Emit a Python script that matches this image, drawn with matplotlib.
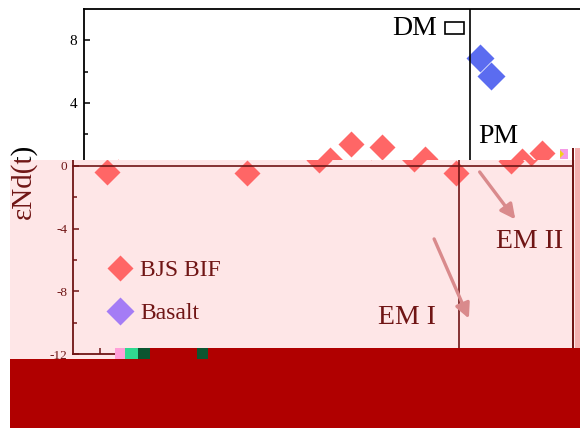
import matplotlib.pyplot as plt
from matplotlib.patches import Rectangle, Polygon
from matplotlib.transforms import Bbox, TransformedBbox

plt.rcParams['font.family'] = ['Liberation Serif', 'DejaVu Serif']
plt.rcParams['axes.unicode_minus'] = False

# position along the section vs. eNd(t)
bif_x = [0.7, 14.7, 21.9, 24.0, 27.1, 31.4, 35.6, 41.1, 43.1]
bif_end = [-0.38, -0.45, 0.38, 1.40, 1.20, 0.44, -0.45, 0.30, 0.80]
basalt_x = [36.9, 38.0]
basalt_end = [6.9, 5.7]

boundary_x = 35.9
x_ticks = [0, 5, 10, 15, 20, 25, 30, 35, 40, 45]
y_major = [-12, -8, -4, 0, 4, 8]
y_minor = [-10, -6, -2, 2, 6]

W, H = 580, 428


def px(x, y):
    return (x / W, 1 - y / H)


def draw_panel(ax, ink, basalt_color, label_size, pad, ylab_x, upper=True, lower=True):
    ax.set_facecolor('none')
    ax.plot(bif_x, bif_end, 'D', ms=13, color='#ff6666', mec='none', label='BJS BIF')
    ax.plot(basalt_x, basalt_end, 'D', ms=14, color=basalt_color, mec='none', label='Basalt')
    ax.axvline(boundary_x, color=ink, lw=1.2)
    ax.axhline(0, color=ink, lw=1.2)

    if upper:
        ax.text(32.6, 8.76, 'DM', ha='right', va='center', fontsize=20, color=ink)
        ax.add_patch(Rectangle((33.4, 8.38), 1.9, 0.76, fill=False, ec=ink, lw=1.2))
        ax.text(36.7, 1.84, 'PM', ha='left', va='center', fontsize=20, color=ink)

    if lower:
        ax.text(27.8, -9.7, 'EM I', ha='left', va='center', fontsize=20, color=ink)
        ax.text(39.6, -4.8, 'EM II', ha='left', va='center', fontsize=20, color=ink)
        arrow = dict(arrowstyle='-|>', color='#d98a8c', lw=2.4, mutation_scale=22)
        ax.annotate('', xy=(37.0, -9.9), xytext=(33.3, -4.5), arrowprops=arrow)
        ax.annotate('', xy=(41.7, -3.56), xytext=(37.8, -0.25), arrowprops=arrow)
        ax.legend(loc='upper left', bbox_to_anchor=(0.056, 0.30), borderaxespad=0,
                  frameon=False, fontsize=17, handlelength=0.8, handletextpad=0.45,
                  labelspacing=0.89, labelcolor=ink)

    ax.set_xlim(-2.7, 47.3)
    ax.set_ylim(-12, 10)
    ax.set_xticks(x_ticks)
    ax.set_xticklabels([])
    ax.set_yticks(y_major)
    ax.set_yticks(y_minor, minor=True)
    if not lower:
        ax.set_yticklabels([str(v) if v > 0 else '' for v in y_major])
    ax.tick_params(which='both', direction='in', colors=ink, labelsize=label_size, pad=pad)
    ax.tick_params(which='major', length=4.5, width=1.1)
    ax.tick_params(which='minor', length=2.8, width=1.1)
    for s in ax.spines.values():
        s.set_color(ink)
        s.set_linewidth(1.3)
    ax.set_ylabel('εNd(t)', fontsize=21, color=ink)
    ax.yaxis.set_label_coords(ylab_x, 0.5)


fig = plt.figure(figsize=(W / 100, H / 100), dpi=100)

ax_w, ax_h = 500 / W, 345 / H
ax_bottom = 1 - 354 / H
ax = fig.add_axes([84 / W, ax_bottom, ax_w, ax_h], zorder=0)
draw_panel(ax, 'black', '#5b6cf0', 11, 5, -0.094, lower=False)

# tinted band over the lower half, with a copy offset to the left
fig.add_artist(Rectangle(px(10, 359), 570 / W, 199.5 / H, transform=fig.transFigure,
                         color='#fee6e7', lw=0, zorder=1))
ax2 = fig.add_axes([73 / W, ax_bottom, ax_w, ax_h], zorder=2)
draw_panel(ax2, '#701515', '#a47cf5', 9.5, 4, -0.072, upper=False)

clip = TransformedBbox(Bbox([px(10, 359), px(580, 159.5)]), fig.transFigure)
fig.canvas.draw()
for a in ax2.findobj(lambda a: a is not ax2):
    a.set_clip_on(True)
    a.set_clip_box(clip)

# solid block across the bottom
block = [px(10, 359), px(115, 359), px(115, 347.5), px(580, 347.5), px(580, 428), px(10, 428)]
fig.add_artist(Polygon(block, closed=True, transform=fig.transFigure,
                       color='#b00000', lw=0, zorder=3))
for x0, x1, c in [(115, 125, '#ff9fd8'), (125, 138, '#30d890'),
                  (138, 150, '#0c5530'), (197, 208, '#0c5530')]:
    fig.add_artist(Rectangle(px(x0, 359), (x1 - x0) / W, 11.5 / H,
                             transform=fig.transFigure, color=c, lw=0, zorder=4))

# right edge strip
fig.add_artist(Rectangle(px(575, 347.5), 5 / W, 199.5 / H, transform=fig.transFigure,
                         color='#f4b0b0', lw=0, zorder=4))
fig.add_artist(Rectangle(px(572, 347.5), 1.6 / W, 199.5 / H, transform=fig.transFigure,
                         color='#701515', lw=0, zorder=4))
fig.add_artist(Rectangle(px(560, 159), 8 / W, 10 / H, transform=fig.transFigure,
                         color='#f49ae6', lw=0, zorder=4))
fig.add_artist(Polygon([px(560, 150), px(564, 154), px(560, 158)], closed=True,
                       transform=fig.transFigure, color='#f2d21a', lw=0, zorder=5))

fig.savefig('out.png', dpi=100)
